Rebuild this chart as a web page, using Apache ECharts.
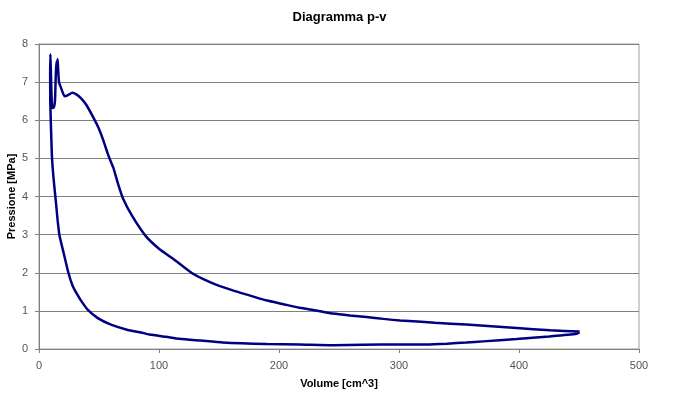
<!DOCTYPE html>
<html>
<head>
<meta charset="utf-8">
<script src="https://cdn.jsdelivr.net/npm/echarts@6/dist/echarts.min.js"></script>
<style>
html,body{margin:0;padding:0;background:#fff;}
#chart{width:679px;height:404px;}
</style>
</head>
<body>
<div id="chart"></div>
<script>
// Volume [cm^3] and pressure [MPa] along the cycle (compression then expansion)
const volume = [450.5,448,425,398,370,356,340,323,300,270,245,217,190,153,135,117,106,92,84,74,60,49,40.5,35,31.5,28,24.5,20.6,17,15.5,14.2,12.2,10.8,10.3,9.8,9.4,9.3,9.5,
  9.9,10.3,10.8,11.5,12.5,13.3,14,14.6,15.0,15.5,16.0,16.7,18.6,21.4,24.2,27.8,31.1,35.3,39.5,45,49.2,53.3,57,59,62,65.5,70,78,89,100,112,127,137,148,162,176,190,203,217,231,245,259,273,287,301,330,356,380,398,426,450.5];
const pressure = [0.44,0.40,0.33,0.26,0.20,0.17,0.14,0.12,0.12,0.11,0.10,0.12,0.13,0.17,0.22,0.27,0.32,0.38,0.44,0.50,0.64,0.81,1.03,1.27,1.45,1.66,2.0,2.51,2.99,3.38,3.82,4.45,5.04,5.5,6.0,6.5,7.2,7.73,
  7.3,6.8,6.4,6.32,6.35,6.5,7.2,7.55,7.4,7.6,7.3,7.0,6.83,6.63,6.66,6.72,6.68,6.57,6.4,6.09,5.83,5.5,5.15,4.98,4.75,4.37,3.95,3.47,2.96,2.63,2.36,2.0,1.83,1.68,1.53,1.40,1.27,1.18,1.08,1.01,0.93,0.88,0.84,0.79,0.75,0.69,0.64,0.59,0.55,0.49,0.46];
const titleText = "Diagramma p-v";
const xName = "Volume [cm^3]";
const yName = "Pressione [MPa]";

const chart = echarts.init(document.getElementById('chart'), null, {renderer:'canvas'});
const pts = volume.map((v,i)=>[v, pressure[i]]);
const font = '"Liberation Sans", Arial, sans-serif';
chart.setOption({
  animation:false,
  backgroundColor:'#ffffff',
  title:{text:titleText, left:'center', top:6, textStyle:{fontFamily:font, fontSize:13, fontWeight:'bold', color:'#000'}},
  grid:{left:39, right:40, top:44, bottom:55, containLabel:false, outerBoundsMode:'none',
    show:true, borderColor:'#a0a0a0', borderWidth:1, backgroundColor:'transparent'},
  xAxis:{type:'value', min:0, max:500, interval:100,
    name:xName, nameLocation:'middle', nameGap:29, nameMoveOverlap:false,
    nameTextStyle:{fontFamily:font, fontSize:11, fontWeight:'bold', color:'#000'},
    axisLine:{show:true, onZero:false, lineStyle:{color:'#808080', width:1}},
    axisTick:{show:true, length:4, lineStyle:{color:'#808080'}},
    axisLabel:{fontFamily:font, fontSize:11, color:'#555', margin:11},
    splitLine:{show:false}},
  yAxis:{type:'value', min:0, max:8, interval:1,
    name:yName, nameLocation:'middle', nameGap:22, nameRotate:90, nameMoveOverlap:false,
    nameTextStyle:{fontFamily:font, fontSize:11, fontWeight:'bold', color:'#000'},
    axisLine:{show:true, onZero:false, lineStyle:{color:'#808080', width:1}},
    axisTick:{show:true, length:4, lineStyle:{color:'#808080'}},
    axisLabel:{fontFamily:font, fontSize:11, color:'#555', margin:11},
    splitLine:{show:true, lineStyle:{color:'#808080', width:1}}},
  series:[{type:'line', data:pts, showSymbol:false, smooth:0.2,
    lineStyle:{color:'#000080', width:2.5}, z:3}]
});
</script>
</body>
</html>
